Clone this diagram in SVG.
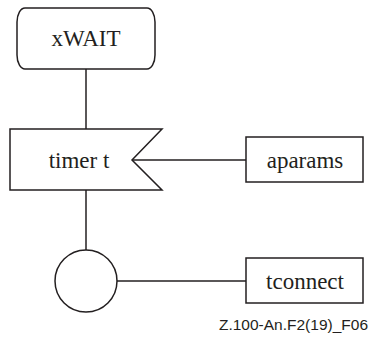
<svg xmlns="http://www.w3.org/2000/svg" width="370" height="338" viewBox="0 0 370 338">
<style>
.s{fill:#fff;stroke:#231f20;stroke-width:1.5}
.l{fill:none;stroke:#231f20;stroke-width:1.5}
.t{font-family:"Liberation Serif","Times New Roman",serif;font-size:23px;fill:#231f20;text-anchor:middle}
.c{font-family:"Liberation Sans",Arial,sans-serif;font-size:15.5px;fill:#231f20;text-anchor:end}
</style>
<g id="connectors">
<line class="l" x1="86" y1="69" x2="86" y2="129"/>
<line class="l" x1="86" y1="190" x2="86" y2="250"/>
<line class="l" x1="132" y1="160" x2="246" y2="160"/>
<line class="l" x1="117" y1="281" x2="246" y2="281"/>
</g>
<g id="xWAIT">
<rect class="s" x="17" y="8" width="138" height="61" rx="8" ry="14"/>
<text class="t" x="86" y="46">xWAIT</text>
</g>
<g id="timer">
<path class="s" d="M10,129 H162 L132,160 L162,190 H10 Z"/>
<text class="t" x="79" y="168">timer t</text>
</g>
<g id="aparams">
<rect class="s" x="246" y="137" width="117" height="45"/>
<text class="t" x="305" y="168">aparams</text>
</g>
<g id="connector">
<circle class="s" cx="86" cy="281" r="31"/>
</g>
<g id="tconnect">
<rect class="s" x="246" y="258" width="117" height="45"/>
<text class="t" x="305" y="289">tconnect</text>
</g>
<text class="c" x="368" y="330">Z.100-An.F2(19)_F06</text>
</svg>
